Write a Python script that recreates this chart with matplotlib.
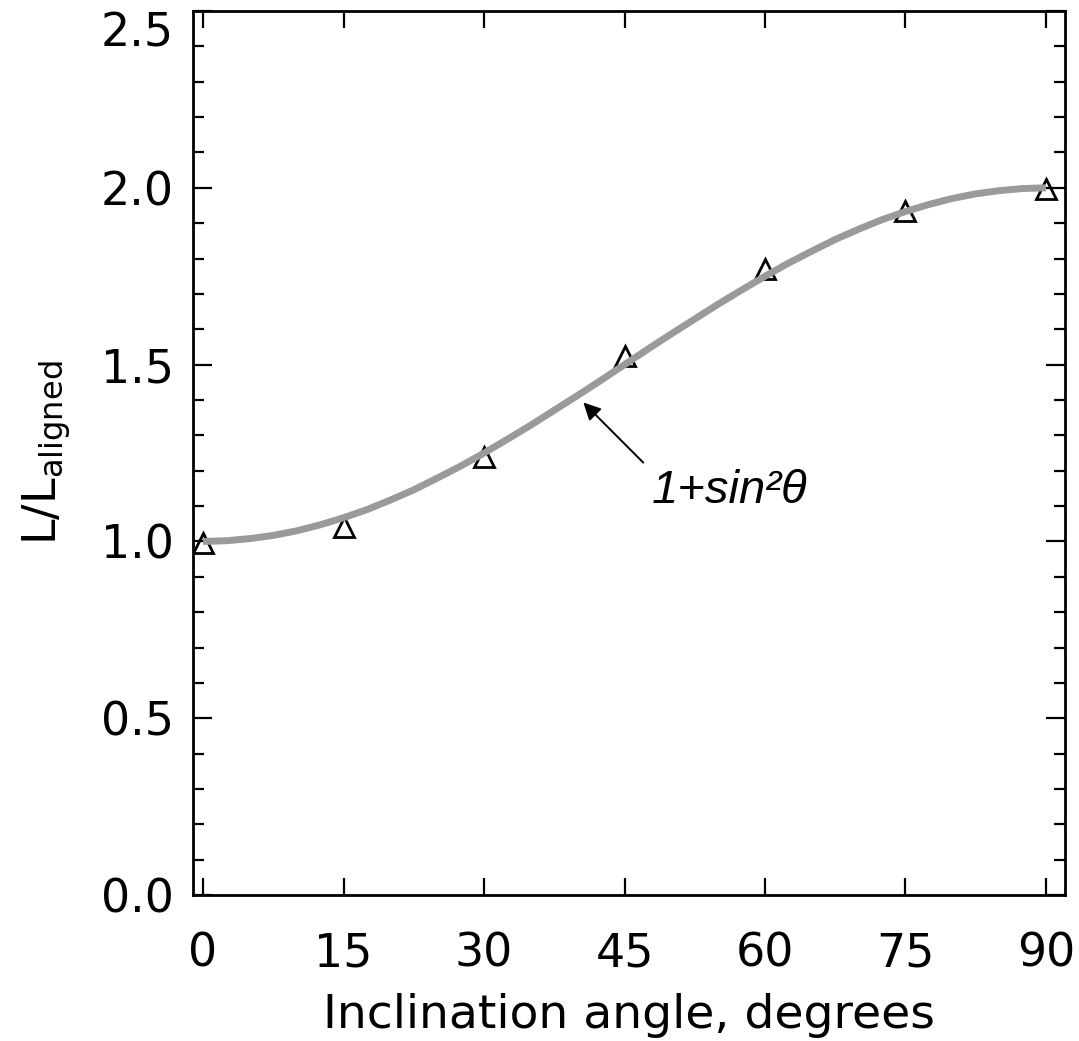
"""L/L_aligned vs inclination angle"""

import numpy as np
import matplotlib
matplotlib.use("Agg")
import matplotlib.pyplot as plt
from matplotlib.ticker import MultipleLocator, FormatStrFormatter

# measured points (triangles)
angles = [0, 15, 30, 45, 60, 75, 90]
ratio = [0.995, 1.04, 1.24, 1.525, 1.77, 1.935, 1.997]

curve_angles = [0, 2.5, 5, 7.5, 10, 12.5, 15, 17.5, 20, 22.5, 25, 27.5, 30,
                32.5, 35, 37.5, 40, 42.5, 45, 47.5, 50, 52.5, 55, 57.5, 60,
                62.5, 65, 67.5, 70, 72.5, 75, 77.5, 80, 82.5, 85, 87.5, 90]
curve_ratio = [1.000, 1.002, 1.008, 1.017, 1.030, 1.047, 1.067, 1.090, 1.117,
               1.146, 1.179, 1.213, 1.250, 1.289, 1.329, 1.371, 1.413, 1.456,
               1.500, 1.544, 1.587, 1.629, 1.671, 1.711, 1.750, 1.787, 1.821,
               1.854, 1.883, 1.910, 1.933, 1.953, 1.970, 1.983, 1.992, 1.998,
               2.000]

x_ticks = [0, 15, 30, 45, 60, 75, 90]
curve_label = "1+sin²θ"

plt.rcParams["font.family"] = ["DejaVu Sans"]
plt.rcParams["mathtext.fontset"] = "dejavusans"

fig = plt.figure(figsize=(10.79, 10.41), dpi=100)
ax = fig.add_axes([0.1789, 0.1402, 0.987 - 0.1789, 0.9894 - 0.1402])

ax.plot(angles, ratio, linestyle="none", marker="^", ms=14, mfc="none",
        mec="black", mew=2, zorder=2)
ax.plot(curve_angles, curve_ratio, color="#9a9a9a", lw=5, zorder=3,
        solid_capstyle="butt")

# annotation
ax.annotate("", xy=(40.6, 1.393), xytext=(47.0, 1.223),
            arrowprops=dict(arrowstyle="-|>", lw=1.4, color="black",
                            mutation_scale=26, shrinkA=0, shrinkB=0))
ax.text(47.9, 1.11, curve_label, fontsize=34, style="italic",
        family=["Liberation Sans", "DejaVu Sans"], ha="left", va="baseline")

ax.set_xlim(-1.07, 92.03)
ax.set_ylim(0, 2.5)
ax.set_xticks(x_ticks)
ax.yaxis.set_major_locator(MultipleLocator(0.5))
ax.yaxis.set_minor_locator(MultipleLocator(0.1))
ax.yaxis.set_major_formatter(FormatStrFormatter("%.1f"))

ax.tick_params(axis="both", which="both", direction="in", top=True, right=True,
               width=1.6, labelsize=33)
ax.tick_params(axis="x", which="major", length=12, pad=26)
ax.tick_params(axis="y", which="major", length=14, pad=14)
ax.tick_params(axis="y", which="minor", length=8)
for s in ax.spines.values():
    s.set_linewidth(2)

ax.set_xlabel("Inclination angle, degrees", fontsize=34, labelpad=12)
ax.set_ylabel(r"L/L$_{\rm aligned}$", fontsize=33, labelpad=20)

# top label sits just under the top spine, as in the original
fig.canvas.draw()
for lbl in ax.get_yticklabels():
    if lbl.get_text() == "2.5":
        lbl.set_verticalalignment("top")

fig.savefig("out.png", dpi=100)
